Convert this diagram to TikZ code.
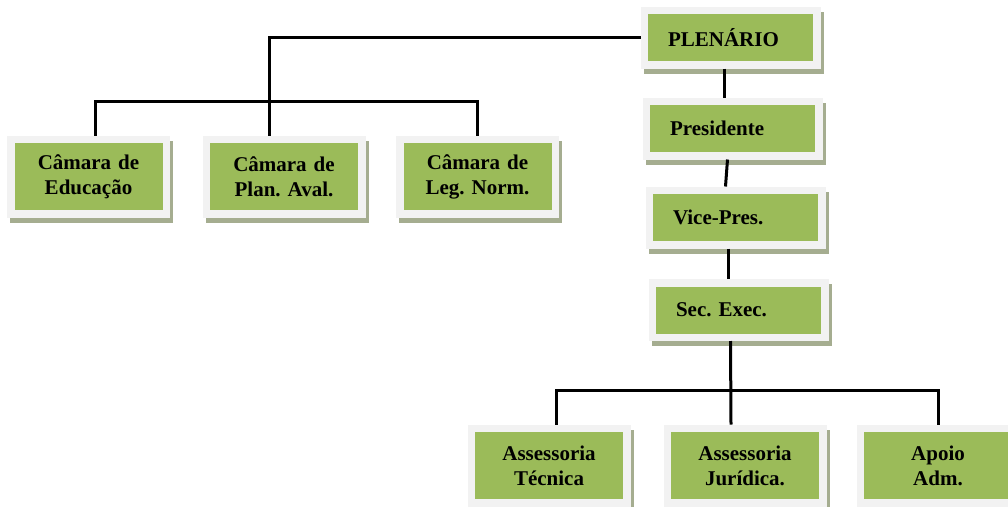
\documentclass[tikz,border=0pt]{standalone}
\usepackage{fontspec}
\setmainfont{Liberation Serif}
\frenchspacing
\definecolor{boxgreen}{HTML}{9BBB59}
\definecolor{boxframe}{HTML}{F2F2F2}
\definecolor{boxshade}{HTML}{A5AD90}
\begin{document}
\begin{tikzpicture}[x=1pt, y=-1pt, line width=3pt,
  box/.style={fill=boxgreen, draw=boxframe, line width=7.5pt, inner sep=0pt,
    preaction={draw=boxshade, fill=boxshade, transform canvas={xshift=3pt, yshift=-5pt}},
    font=\bfseries\fontsize{21}{25}\selectfont},
  wbox/.style={box, minimum width=155.5pt, minimum height=74.5pt, text width=148pt, align=center},
  rbox/.style={box, minimum width=172.5pt, minimum height=54.5pt, text width=125pt, align=left, inner xsep=23.75pt}]
\useasboundingbox (0,0) rectangle (1008,506);

\node[rbox] (plen) at (730.5,37.5) {PLENÁRIO};
\node[rbox] (pres) at (732.5,128.5) {Presidente};
\node[rbox] (vice) at (735.5,217.5) {Vice-Pres.};
\node[rbox] (sec) at (738.5,310) {Sec. Exec.};

\node[wbox] (educ) at (88.5,176.5) {Câmara de\\Educação};
\node[wbox] (plan) at (284,176.5) {Câmara de\\Plan. Aval.};
\node[wbox] (leg) at (477.5,176.5) {Câmara de\\Leg. Norm.};

\node[wbox] (tec) at (549,465.5) {Assessoria\\Técnica};
\node[wbox] (jur) at (745,465.5) {Assessoria\\Jurídica.};
\node[wbox] (apoio) at (938,465.5) {Apoio\\Adm.};

\draw (plen.west) -| ([xshift=-15pt]plan.north);
\draw ([xshift=6.5pt]educ.north) -- ++(0,-34.5) -| (leg.north);

\draw ([xshift=-6pt]plen.south) -- ([xshift=-8pt]pres.north);
\draw ([xshift=-5pt]pres.south) -- ([xshift=-10pt]vice.north);
\draw ([xshift=-7.5pt]vice.south) -- ([xshift=-10.5pt]sec.north);
\draw ([xshift=-8pt]sec.south) -- ([xshift=-14pt]jur.north);
\draw ([xshift=7pt]tec.north) -- ++(0,-34.5) -| (apoio.north);
\end{tikzpicture}
\end{document}
